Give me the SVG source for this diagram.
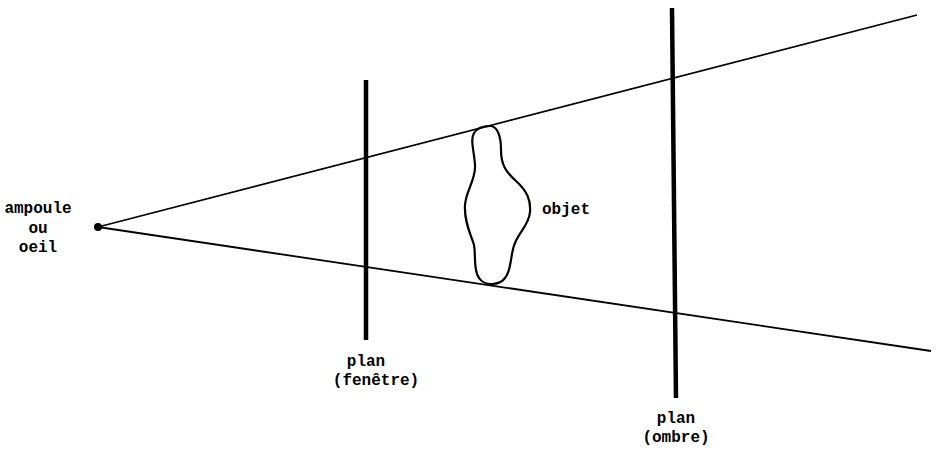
<svg xmlns="http://www.w3.org/2000/svg" width="938" height="451" viewBox="0 0 938 451">
<style>
.t{font-family:"Liberation Mono","Courier New",monospace;font-weight:bold;font-size:16px;fill:#000}
.ray{stroke:#000;stroke-width:1.8;fill:none}
.plane{stroke:#000;stroke-width:4.5;fill:none}
</style>
<rect width="938" height="451" fill="#fff"/>
<g id="connectors">
<line class="ray" x1="98" y1="227" x2="917" y2="15"/>
<line class="ray" x1="98" y1="227" x2="931" y2="351"/>
</g>
<g id="source">
<circle cx="98" cy="227" r="4" fill="#000"/>
<text class="t" x="38" y="213" text-anchor="middle">ampoule</text>
<text class="t" x="38" y="233" text-anchor="middle">ou</text>
<text class="t" x="38" y="252" text-anchor="middle">oeil</text>
</g>
<g id="plan-fenetre">
<line class="plane" x1="366" y1="80" x2="366" y2="340"/>
<text class="t" x="366" y="366" text-anchor="middle">plan</text>
<text class="t" x="376" y="385" text-anchor="middle">(fenêtre)</text>
</g>
<g id="objet">
<path d="M490,126 C497,126 501,135 501,150 C501,165 506,172 516,181 C527,191 531,200 530,212 C529,225 519,232 515,243 C510,254 512,270 505,278 C500,285 485,287 479,278 C473,270 476,255 474,245 C471,235 464,222 465,205 C466,190 476,180 475,165 C474,150 470,140 474,133 C478,127 484,126 490,126 Z" fill="none" stroke="#000" stroke-width="2.2"/>
<text class="t" x="542" y="214">objet</text>
</g>
<g id="plan-ombre">
<line class="plane" x1="672" y1="8" x2="676" y2="398"/>
<text class="t" x="676" y="423" text-anchor="middle">plan</text>
<text class="t" x="676" y="442" text-anchor="middle">(ombre)</text>
</g>
</svg>
